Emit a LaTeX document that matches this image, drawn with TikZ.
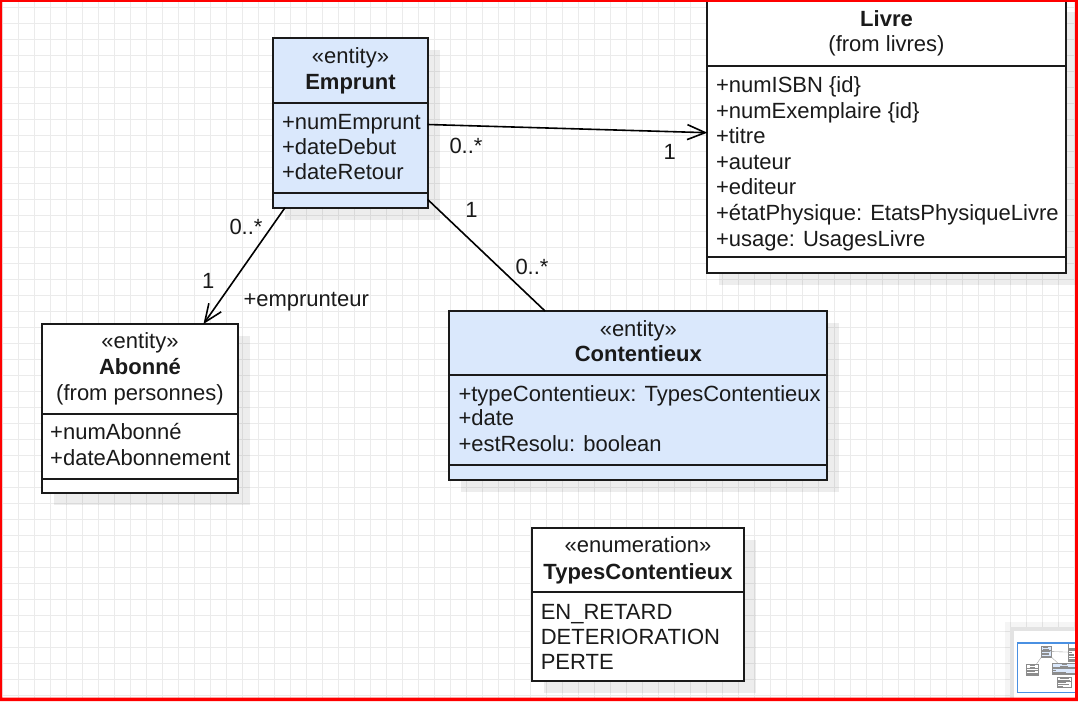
\documentclass[tikz,border=0pt]{standalone}
\usepackage{fontspec}
\setmainfont{Liberation Sans}
\usetikzlibrary{arrows.meta}
\definecolor{entblue}{HTML}{DAE8FC}
\definecolor{ink}{HTML}{1A1A1A}
\definecolor{gridc}{HTML}{EBEBEB}
\definecolor{viewblue}{HTML}{4A90E2}
\definecolor{framered}{HTML}{FF0000}
\newcommand{\fsz}{\fontsize{22}{26}\selectfont}
% name, x1, y1, x2, y2, fill
\newcommand{\umlclass}[6]{%
  \fill[shadowfill] ({#2+12},{#3+12}) rectangle ({#4+12},{#5+12});
  \node[classbox, fill=#6, minimum width={#4-#2}, minimum height={#5-#3}] (#1) at (#2,#3) {};
}
\newcommand{\msep}[3]{\draw[sepline] (#1,#3) -- (#2,#3);}
\newcommand{\mrow}[3]{\draw[minitext] (#1,{#3-6}) -- (#2,{#3-6});}
\begin{document}
\begin{tikzpicture}[x=1pt,y=-1pt,
  shadowfill/.style={fill=black, opacity=0.07},
  classbox/.style={draw=ink, line width=1.8pt, anchor=north west, inner sep=0pt, outer sep=0pt, rectangle},
  sepline/.style={draw=ink, line width=1.8pt},
  txt/.style={inner sep=0pt, outer sep=0pt, font=\fsz, text=ink, yshift=-1pt},
  hdr/.style={txt, anchor=base},
  attr/.style={txt, anchor=base west},
  lbl/.style={txt, anchor=base west, yshift=-1.5pt},
  conn/.style={draw=black, line width=1.6pt},
  openarrow/.style={-{Straight Barb[length=18pt, width=15pt, line width=1.6pt]}},
  gridline/.style={draw=gridc, line width=1pt},
  minibox/.style={draw=black!45, line width=0.35pt},
  minitext/.style={draw=black!45, line width=0.7pt},
  miniconn/.style={draw=black!40, line width=0.35pt},
]
\useasboundingbox (0,0) rectangle (1078,701);
\fill[white] (0,0) rectangle (1078,701);
% grid
\foreach \i in {0,...,67} { \draw[gridline] ({2.3+16*\i},0) -- ({2.3+16*\i},701); }
\foreach \j in {0,...,43} { \draw[gridline] (0,{7.3+16*\j}) -- (1078,{7.3+16*\j}); }

% ---------- classes ----------
\umlclass{emprunt}{273.3}{38.3}{427.7}{207.7}{entblue}
\msep{273.3}{427.7}{102.7}
\msep{273.3}{427.7}{193.3}
\node[hdr] (emp-st) at (350.5,62.3) {«entity»};
\node[hdr, font=\fsz\bfseries] (emp-nm) at (350.5,88.3) {Emprunt};
\node[attr] (emp-a1) at (282,128.3) {+numEmprunt};
\node[attr] (emp-a2) at (282,153.3) {+dateDebut};
\node[attr] (emp-a3) at (282,178.3) {+dateRetour};

\umlclass{livre}{707.3}{0}{1065.7}{273.3}{white}
\msep{707.3}{1065.7}{65.7}
\msep{707.3}{1065.7}{257.3}
\node[hdr, font=\fsz\bfseries] (liv-nm) at (886.5,26) {Livre};
\node[hdr] (liv-from) at (886.5,51) {(from livres)};
\node[attr] (liv-a1) at (716,91.5) {+numISBN \{id\}};
\node[attr] (liv-a2) at (716,117.1) {+numExemplaire \{id\}};
\node[attr] (liv-a3) at (716,142.7) {+titre};
\node[attr] (liv-a4) at (716,168.3) {+auteur};
\node[attr] (liv-a5) at (716,193.9) {+editeur};
\node[attr] (liv-a6) at (716,219.5) {+étatPhysique: EtatsPhysiqueLivre};
\node[attr] (liv-a7) at (716,245.1) {+usage: UsagesLivre};

\umlclass{abonne}{41.7}{324}{238.3}{493.3}{white}
\msep{41.7}{238.3}{414}
\msep{41.7}{238.3}{479}
\node[hdr] (abo-st) at (140,347.8) {«entity»};
\node[hdr, font=\fsz\bfseries] (abo-nm) at (140,373.5) {Abonné};
\node[hdr] (abo-from) at (140,399.3) {(from personnes)};
\node[attr] (abo-a1) at (50.2,438.3) {+numAbonné};
\node[attr] (abo-a2) at (50.2,464) {+dateAbonnement};

\umlclass{contentieux}{449.3}{311}{827.3}{480}{entblue}
\msep{449.3}{827.3}{375.3}
\msep{449.3}{827.3}{465}
\node[hdr] (con-st) at (638.3,335) {«entity»};
\node[hdr, font=\fsz\bfseries] (con-nm) at (638.3,360) {Contentieux};
\node[attr] (con-a1) at (458.5,400) {+typeContentieux: TypesContentieux};
\node[attr] (con-a2) at (458.5,424.8) {+date};
\node[attr] (con-a3) at (458.5,450.5) {+estResolu: boolean};

\umlclass{types}{531.7}{528.3}{744.3}{681}{white}
\msep{531.7}{744.3}{592.3}
\node[hdr] (typ-st) at (638,551.7) {«enumeration»};
\node[hdr, font=\fsz\bfseries] (typ-nm) at (638,578) {TypesContentieux};
\node[attr] (typ-a1) at (540.8,618.3) {EN\_RETARD};
\node[attr] (typ-a2) at (540.8,643.3) {DETERIORATION};
\node[attr] (typ-a3) at (540.8,668.6) {PERTE};

% ---------- connectors ----------
\coordinate (c1a) at (emprunt.east |- 0,124.5);
\coordinate (c1b) at (livre.west |- 0,132.7);
\draw[conn, openarrow] (c1a) -- (c1b);
\coordinate (c2a) at (285,207.7);
\coordinate (c2b) at (203.5,324);
\draw[conn, openarrow] (c2a) -- (c2b);
\coordinate (c3a) at (427.7,199.5);
\coordinate (c3b) at (545,311);
\draw[conn] (c3a) -- (c3b);

% ---------- labels ----------
\node[lbl] (l1a) at (449.5,150.7) {0..*};
\node[lbl] (l1b) at (663.5,156.7) {1};
\node[lbl] (l2a) at (229.5,232.3) {0..*};
\node[lbl] (l2b) at (202,285.7) {1};
\node[lbl] (l2r) at (243.5,303.7) {+emprunteur};
\node[lbl] (l3a) at (465.3,215) {1};
\node[lbl] (l3b) at (515.5,272.3) {0..*};

% ---------- minimap ----------
\begin{scope}
\clip (0,0) rectangle (1075,697.5);
\fill[black, opacity=0.04] (1005,622) rectangle (1090,710);
\fill[black!11] (1010,627) rectangle (1090,710);
\fill[white] (1013.5,630.5) rectangle (1090,710);
\begin{scope}[shift={(1023.3,643.6)}, scale=0.064]
  \draw[minibox, fill=entblue] (273.3,38.3) rectangle (427.7,207.7);
  \draw[minibox] (273.3,102.7) -- (427.7,102.7) (273.3,193.3) -- (427.7,193.3);
  \draw[minibox, fill=white] (707.3,0) rectangle (1065.7,273.3);
  \draw[minibox] (707.3,65.7) -- (1065.7,65.7) (707.3,257.3) -- (1065.7,257.3);
  \draw[minibox, fill=white] (41.7,324) rectangle (238.3,493.3);
  \draw[minibox] (41.7,414) -- (238.3,414) (41.7,479) -- (238.3,479);
  \draw[minibox, fill=entblue] (449.3,311) rectangle (827.3,480);
  \draw[minibox] (449.3,375.3) -- (827.3,375.3) (449.3,465) -- (827.3,465);
  \draw[minibox, fill=white] (531.7,528.3) rectangle (744.3,681);
  \draw[minibox] (531.7,592.3) -- (744.3,592.3);
  \draw[miniconn] (427.7,124.5) -- (707.3,132.7);
  \draw[miniconn] (285,207.7) -- (203.5,324);
  \draw[miniconn] (427.7,199.5) -- (545,311);
  \mrow{313}{389}{62} \mrow{307}{395}{88} \mrow{283}{421}{128} \mrow{283}{396}{153} \mrow{283}{403}{178}
  \mrow{862}{912}{26} \mrow{829}{945}{51} \mrow{717}{862}{91} \mrow{717}{921}{117} \mrow{717}{767}{143}
  \mrow{717}{793}{168} \mrow{717}{797}{194} \mrow{717}{1058}{219} \mrow{717}{925}{245}
  \mrow{99}{180}{348} \mrow{99}{181}{373} \mrow{56}{224}{399} \mrow{51}{182}{438} \mrow{51}{231}{464}
  \mrow{600}{677}{335} \mrow{575}{702}{360} \mrow{459}{819}{400} \mrow{459}{515}{425} \mrow{459}{660}{450}
  \mrow{566}{712}{552} \mrow{543}{733}{578} \mrow{541}{672}{618} \mrow{541}{720}{643} \mrow{541}{613}{669}
\end{scope}
\draw[viewblue, line width=1.6pt] (1017.3,642.7) rectangle (1095,692.3);
\end{scope}

% ---------- red frame ----------
\fill[framered, even odd rule] (0,0) rectangle (1078,701) (2,2) rectangle (1075,697.5);
\end{tikzpicture}
\end{document}
